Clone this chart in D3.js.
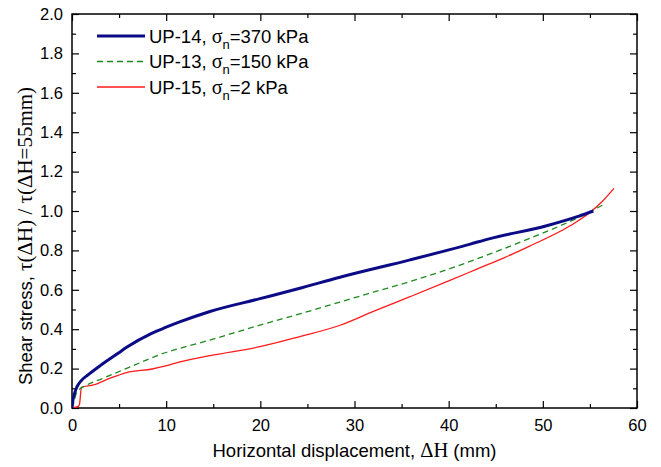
<!DOCTYPE html>
<html>
<head>
<meta charset="utf-8">
<script src="https://cdn.jsdelivr.net/npm/d3@7/dist/d3.min.js"></script>
<style>
  body { margin: 0; background: #fff; }
  svg text { font-family: "Liberation Sans", Arial, sans-serif; fill: #000; }
  .serif { font-family: "Liberation Serif", "Times New Roman", serif; }
</style>
</head>
<body>
<div id="chart"></div>
<script>
// tick values
const xMajor = [0, 10, 20, 30, 40, 50, 60];
const xMinor = [5, 15, 25, 35, 45, 55];
const yMajor = [0, 0.2, 0.4, 0.6, 0.8, 1.0, 1.2, 1.4, 1.6, 1.8, 2.0];
const yMinor = [0.1, 0.3, 0.5, 0.7, 0.9, 1.1, 1.3, 1.5, 1.7, 1.9];

// UP-14, sn = 370 kPa
const up14X = [0, 0.1, 0.28, 0.46, 0.64, 1.0, 1.7, 3.0, 4.9, 5.8, 8.4, 10.0, 11.5, 14.65, 19.96, 24.0, 28.46, 35.9, 42.3, 44.4, 50.4, 53.9, 55.36];
const up14Y = [0, 0.04, 0.075, 0.10, 0.117, 0.14, 0.168, 0.215, 0.278, 0.308, 0.378, 0.41, 0.438, 0.49, 0.555, 0.605, 0.664, 0.752, 0.832, 0.86, 0.925, 0.975, 1.0];

// UP-13, sn = 150 kPa
const up13X = [0, 0.2, 0.5, 0.64, 1.5, 3.1, 6.0, 10.06, 11.47, 14.65, 19.96, 24.0, 28.46, 32.0, 35.9, 40.0, 44.4, 48.6, 53.6, 56.35];
const up13Y = [0, 0.03, 0.08, 0.088, 0.115, 0.147, 0.205, 0.283, 0.303, 0.345, 0.421, 0.475, 0.538, 0.588, 0.642, 0.705, 0.782, 0.861, 0.963, 1.03];

// UP-15, sn = 2 kPa
const up15X = [0, 0.67, 0.8, 1.0, 2.3, 4.0, 5.8, 8.5, 10.06, 11.47, 14.65, 19.96, 24.0, 28.46, 32.0, 35.9, 40.0, 43.0, 46.0, 48.6, 52.9, 55.0, 56.3, 57.55];
const up15Y = [0, 0.008, 0.02, 0.105, 0.117, 0.15, 0.18, 0.198, 0.215, 0.234, 0.266, 0.311, 0.36, 0.42, 0.49, 0.565, 0.645, 0.705, 0.765, 0.822, 0.925, 0.992, 1.048, 1.115];

const legendNames = ["UP-14, ", "UP-13, ", "UP-15, "];
const legendStress = ["=370 kPa", "=150 kPa", "=2 kPa"];

const width = 661, height = 467;
const mLeft = 72, mRight = 637, mTop = 14, mBottom = 408;

const svg = d3.select("#chart").append("svg")
  .attr("width", width)
  .attr("height", height);

const x = d3.scaleLinear().domain([0, 60]).range([mLeft, mRight]);
const y = d3.scaleLinear().domain([0, 2]).range([mBottom, mTop]);

// axes: ticks point inward
function drawAxis(axis, tx, ty, cls) {
  const g = svg.append("g")
    .attr("class", cls)
    .attr("transform", `translate(${tx},${ty})`)
    .call(axis);
  g.select(".domain").remove();
  g.selectAll("line").attr("stroke", "#000").attr("stroke-width", 1.2);
  g.selectAll("text").style("font-size", "16.5px").attr("font-family", null);
  return g;
}

drawAxis(d3.axisBottom(x).tickValues(xMajor).tickSize(-7).tickPadding(8).tickFormat(d3.format("d")), 0, mBottom, "x-axis");
drawAxis(d3.axisBottom(x).tickValues(xMinor).tickSize(-4).tickFormat(""), 0, mBottom, "x-minor");
drawAxis(d3.axisTop(x).tickValues(xMajor).tickSize(-7).tickFormat(""), 0, mTop, "x-top");
drawAxis(d3.axisTop(x).tickValues(xMinor).tickSize(-4).tickFormat(""), 0, mTop, "x-top-minor");

drawAxis(d3.axisLeft(y).tickValues(yMajor).tickSize(-7).tickPadding(9).tickFormat(d3.format(".1f")), mLeft, 0, "y-axis");
drawAxis(d3.axisLeft(y).tickValues(yMinor).tickSize(-4).tickFormat(""), mLeft, 0, "y-minor");
drawAxis(d3.axisRight(y).tickValues(yMajor).tickSize(-7).tickFormat(""), mRight, 0, "y-right");
drawAxis(d3.axisRight(y).tickValues(yMinor).tickSize(-4).tickFormat(""), mRight, 0, "y-right-minor");

svg.selectAll(".x-axis text").attr("dy", "0.92em");

// frame
svg.append("rect")
  .attr("x", mLeft).attr("y", mTop)
  .attr("width", mRight - mLeft).attr("height", mBottom - mTop)
  .attr("fill", "none").attr("stroke", "#000").attr("stroke-width", 1.5);

// curves
const series = [
  { xs: up14X, ys: up14Y, color: "#0b0b86", w: 3, dash: null },
  { xs: up13X, ys: up13Y, color: "#1e8a1e", w: 1.3, dash: "6,4" },
  { xs: up15X, ys: up15Y, color: "#ff1a1a", w: 1.3, dash: null }
];

svg.append("clipPath").attr("id", "plotclip")
  .append("rect").attr("x", mLeft).attr("y", mTop)
  .attr("width", mRight - mLeft).attr("height", mBottom - mTop);

const plot = svg.append("g").attr("clip-path", "url(#plotclip)");

const line = d3.line().x(d => x(d[0])).y(d => y(d[1])).curve(d3.curveMonotoneX);

// red first, then green, blue on top
[series[2], series[1], series[0]].forEach(s => {
  const pts = s.xs.map((v, i) => [v, s.ys[i]]);
  plot.append("path")
    .datum(pts)
    .attr("d", line)
    .attr("fill", "none")
    .attr("stroke", s.color)
    .attr("stroke-width", s.w)
    .attr("stroke-dasharray", s.dash)
    .attr("stroke-linejoin", "round");
});

// legend
const legend = svg.append("g").attr("class", "legend");
series.forEach((s, i) => {
  const ly = 36 + i * 25.5;
  legend.append("line")
    .attr("x1", 97).attr("x2", 145)
    .attr("y1", ly).attr("y2", ly)
    .attr("stroke", s.color)
    .attr("stroke-width", s.w)
    .attr("stroke-dasharray", s.dash);
  const t = legend.append("text")
    .attr("x", 149).attr("y", ly + 6.5)
    .style("font-size", "18.5px");
  t.append("tspan").text(legendNames[i]);
  t.append("tspan").attr("class", "serif").style("font-size", "20px").text("σ");
  t.append("tspan").attr("dy", 6).style("font-size", "13px").text("n");
  t.append("tspan").attr("dy", -6).text(legendStress[i]);
});

// axis titles
const xt = svg.append("text")
  .attr("x", (mLeft + mRight) / 2).attr("y", 457)
  .attr("text-anchor", "middle")
  .style("font-size", "18.5px");
xt.append("tspan").text("Horizontal displacement, ");
xt.append("tspan").attr("class", "serif").style("font-size", "20.5px").text("ΔH");
xt.append("tspan").text(" (mm)");

const yt = svg.append("text")
  .attr("transform", "translate(32,236) rotate(-90)")
  .attr("text-anchor", "middle")
  .style("font-size", "18.5px");
yt.append("tspan").text("Shear stress, ");
yt.append("tspan").attr("class", "serif").style("font-size", "21px").text("τ(ΔH) / τ(ΔH=55mm)");
</script>
</body>
</html>
